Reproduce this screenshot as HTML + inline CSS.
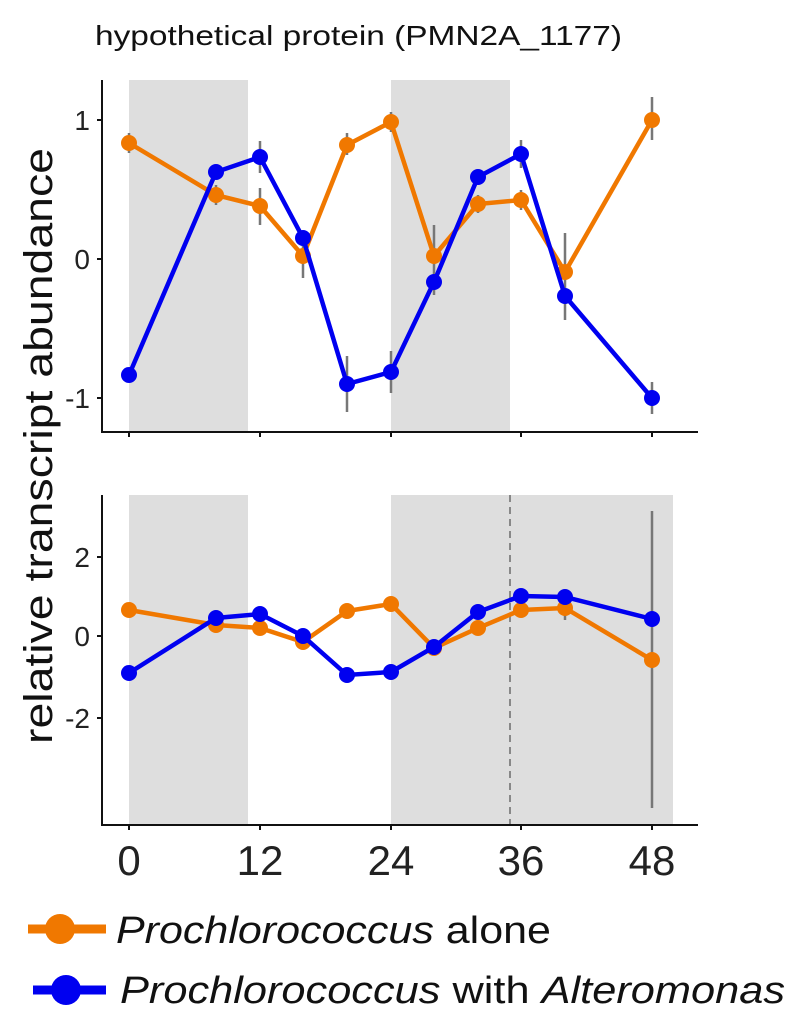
<!DOCTYPE html>
<html><head><style>body{margin:0;background:#fff}svg{display:block}</style></head><body>
<svg width="798" height="1024" xmlns="http://www.w3.org/2000/svg" font-family="Liberation Sans, sans-serif">
<text x="95" y="45" font-size="28" fill="#111" textLength="527" lengthAdjust="spacingAndGlyphs">hypothetical protein (PMN2A_1177)</text>
<!-- top panel -->
<rect x="129" y="80" width="119" height="352" fill="#dedede"/>
<rect x="391" y="80" width="119" height="352" fill="#dedede"/>
<g stroke="#777" stroke-width="2.5">
<line x1="129" y1="133" x2="129" y2="153"/><line x1="216" y1="185" x2="216" y2="205"/><line x1="260" y1="188" x2="260" y2="225"/><line x1="303" y1="238" x2="303" y2="278"/><line x1="347" y1="133" x2="347" y2="155"/><line x1="391" y1="112" x2="391" y2="132"/><line x1="434" y1="225" x2="434" y2="295"/><line x1="478" y1="195" x2="478" y2="213"/><line x1="521" y1="190" x2="521" y2="210"/><line x1="565" y1="233" x2="565" y2="320"/><line x1="652" y1="97" x2="652" y2="140"/>
<line x1="260" y1="141" x2="260" y2="173"/><line x1="347" y1="356" x2="347" y2="412"/><line x1="391" y1="351" x2="391" y2="393"/><line x1="521" y1="140" x2="521" y2="168"/><line x1="652" y1="382" x2="652" y2="414"/>
</g>
<polyline fill="none" stroke="#f07800" stroke-width="4.5" points="129,143 216,195 260,206 303,256 347,145 391,122 434,256 478,204 521,200 565,272 652,120"/>
<g fill="#f07800"><circle cx="129" cy="143" r="8"/><circle cx="216" cy="195" r="8"/><circle cx="260" cy="206" r="8"/><circle cx="303" cy="256" r="8"/><circle cx="347" cy="145" r="8"/><circle cx="391" cy="122" r="8"/><circle cx="434" cy="256" r="8"/><circle cx="478" cy="204" r="8"/><circle cx="521" cy="200" r="8"/><circle cx="565" cy="272" r="8"/><circle cx="652" cy="120" r="8"/></g>
<polyline fill="none" stroke="#0000f0" stroke-width="4.5" points="129,375 216,172 260,157 303,238 347,384 391,372 434,282 478,177 521,154 565,296 652,398"/>
<g fill="#0000f0"><circle cx="129" cy="375" r="8"/><circle cx="216" cy="172" r="8"/><circle cx="260" cy="157" r="8"/><circle cx="303" cy="238" r="8"/><circle cx="347" cy="384" r="8"/><circle cx="391" cy="372" r="8"/><circle cx="434" cy="282" r="8"/><circle cx="478" cy="177" r="8"/><circle cx="521" cy="154" r="8"/><circle cx="565" cy="296" r="8"/><circle cx="652" cy="398" r="8"/></g>
<g stroke="#111" stroke-width="2"><line x1="102" y1="80" x2="102" y2="433"/><line x1="101" y1="432" x2="698" y2="432"/>
<line x1="97" y1="120" x2="102" y2="120"/><line x1="97" y1="259" x2="102" y2="259"/><line x1="97" y1="398" x2="102" y2="398"/>
<line x1="129" y1="432" x2="129" y2="437"/><line x1="260" y1="432" x2="260" y2="437"/><line x1="391" y1="432" x2="391" y2="437"/><line x1="521" y1="432" x2="521" y2="437"/><line x1="652" y1="432" x2="652" y2="437"/></g>
<g font-size="28" fill="#222" text-anchor="end"><text x="90" y="130">1</text><text x="90" y="269">0</text><text x="90" y="408">-1</text></g>
<!-- bottom panel -->
<rect x="129" y="495" width="119" height="330" fill="#dedede"/>
<rect x="391" y="495" width="282" height="330" fill="#dedede"/>
<line x1="510" y1="495" x2="510" y2="825" stroke="#888" stroke-width="2" stroke-dasharray="7,5"/>
<line x1="652" y1="511" x2="652" y2="808" stroke="#777" stroke-width="2.5"/>
<line x1="565" y1="598" x2="565" y2="620" stroke="#777" stroke-width="2.5"/>
<polyline fill="none" stroke="#f07800" stroke-width="4.5" points="129,610 216,625 260,628 303,642 347,611 391,604 434,648 478,628 521,610 565,608 652,660"/>
<g fill="#f07800"><circle cx="129" cy="610" r="8"/><circle cx="216" cy="625" r="8"/><circle cx="260" cy="628" r="8"/><circle cx="303" cy="642" r="8"/><circle cx="347" cy="611" r="8"/><circle cx="391" cy="604" r="8"/><circle cx="434" cy="648" r="8"/><circle cx="478" cy="628" r="8"/><circle cx="521" cy="610" r="8"/><circle cx="565" cy="608" r="8"/><circle cx="652" cy="660" r="8"/></g>
<polyline fill="none" stroke="#0000f0" stroke-width="4.5" points="129,673 216,618 260,614 303,636 347,675 391,672 434,647 478,612 521,596 565,597 652,619"/>
<g fill="#0000f0"><circle cx="129" cy="673" r="8"/><circle cx="216" cy="618" r="8"/><circle cx="260" cy="614" r="8"/><circle cx="303" cy="636" r="8"/><circle cx="347" cy="675" r="8"/><circle cx="391" cy="672" r="8"/><circle cx="434" cy="647" r="8"/><circle cx="478" cy="612" r="8"/><circle cx="521" cy="596" r="8"/><circle cx="565" cy="597" r="8"/><circle cx="652" cy="619" r="8"/></g>
<g stroke="#111" stroke-width="2"><line x1="102" y1="495" x2="102" y2="826"/><line x1="101" y1="825" x2="698" y2="825"/>
<line x1="97" y1="557" x2="102" y2="557"/><line x1="97" y1="636" x2="102" y2="636"/><line x1="97" y1="718" x2="102" y2="718"/>
<line x1="129" y1="825" x2="129" y2="830"/><line x1="260" y1="825" x2="260" y2="830"/><line x1="391" y1="825" x2="391" y2="830"/><line x1="521" y1="825" x2="521" y2="830"/><line x1="652" y1="825" x2="652" y2="830"/></g>
<g font-size="28" fill="#222" text-anchor="end"><text x="90" y="567">2</text><text x="90" y="646">0</text><text x="90" y="728">-2</text></g>
<g font-size="42" fill="#222" text-anchor="middle"><text x="129" y="875">0</text><text x="260" y="875">12</text><text x="391" y="875">24</text><text x="521" y="875">36</text><text x="652" y="875">48</text></g>
<text transform="translate(52,446) rotate(-90)" font-size="40" fill="#111" text-anchor="middle" textLength="596" lengthAdjust="spacingAndGlyphs">relative transcript abundance</text>
<!-- legend -->
<line x1="28" y1="929" x2="106" y2="929" stroke="#f07800" stroke-width="9"/><circle cx="60" cy="929" r="15" fill="#f07800"/>
<text x="116" y="943" font-size="38" fill="#111" textLength="435" lengthAdjust="spacingAndGlyphs"><tspan font-style="italic">Prochlorococcus</tspan> alone</text>
<line x1="33" y1="990" x2="106" y2="990" stroke="#0000f0" stroke-width="9"/><circle cx="66" cy="990" r="15" fill="#0000f0"/>
<text x="120" y="1003" font-size="38" fill="#111" textLength="665" lengthAdjust="spacingAndGlyphs"><tspan font-style="italic">Prochlorococcus</tspan> with <tspan font-style="italic">Alteromonas</tspan></text>
</svg>
</body></html>
